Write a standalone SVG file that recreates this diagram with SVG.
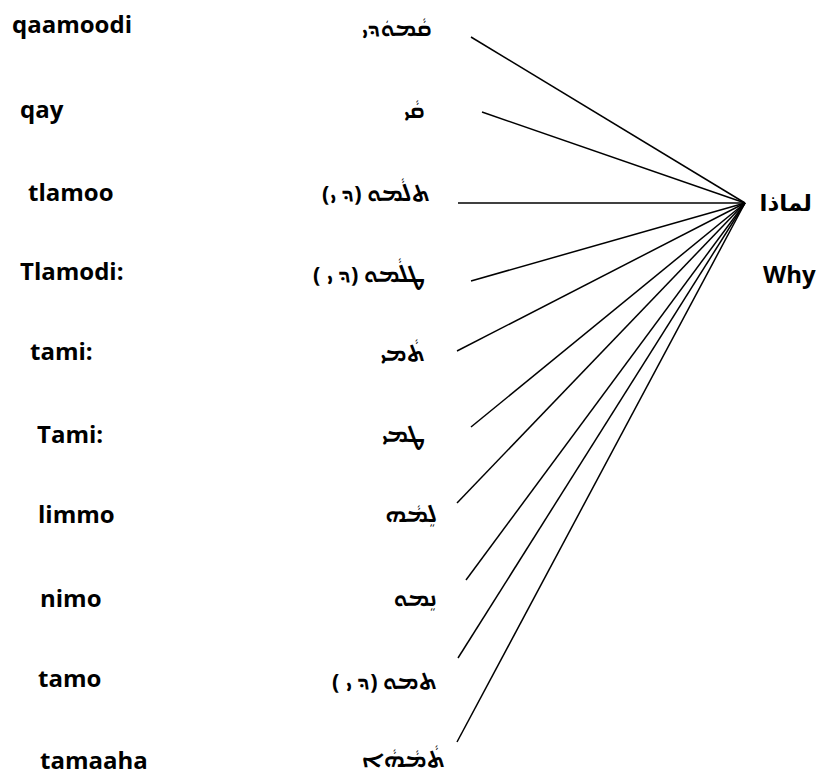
<svg xmlns="http://www.w3.org/2000/svg" width="820" height="778" viewBox="0 0 820 778">
<style>
.lat{font-family:"Open Sans","Liberation Sans",sans-serif;font-weight:bold;font-size:24px;fill:#000}
.syr{font-family:"Noto Sans Syriac","Estrangelo Edessa","DejaVu Sans",sans-serif;font-weight:bold;font-size:22px;fill:#000}
.ar{font-family:"DejaVu Sans","Noto Sans",sans-serif;font-weight:bold;font-size:23px;fill:#000}
.ln{stroke:#000;stroke-width:1.5;fill:none}
</style>
<rect width="820" height="778" fill="#fff"/>
<g id="connectors">
<line class="ln" x1="745" y1="203" x2="471" y2="37"/>
<line class="ln" x1="745" y1="203" x2="482" y2="112"/>
<line class="ln" x1="745" y1="203" x2="458" y2="203"/>
<line class="ln" x1="745" y1="203" x2="471" y2="281"/>
<line class="ln" x1="745" y1="203" x2="457" y2="351"/>
<line class="ln" x1="745" y1="203" x2="471" y2="427"/>
<line class="ln" x1="745" y1="203" x2="457" y2="503"/>
<line class="ln" x1="745" y1="203" x2="466" y2="580"/>
<line class="ln" x1="745" y1="203" x2="458" y2="658"/>
<line class="ln" x1="745" y1="203" x2="457" y2="742"/>
</g>
<g id="n1"><text class="lat" x="12" y="33">qaamoodi</text><text class="syr" x="432" y="36" direction="rtl">ܩܵܡܘܿܕܝ</text></g>
<g id="n2"><text class="lat" x="20" y="118">qay</text><text class="syr" x="425" y="118" direction="rtl">ܩܵܝ</text></g>
<g id="n3"><text class="lat" x="28" y="201">tlamoo</text><text class="syr" x="430" y="201" direction="rtl">ܬܠܵܡܘ (ܕ ܝ)</text></g>
<g id="n4"><text class="lat" x="20" y="280">Tlamodi:</text><text class="syr" x="425" y="282" direction="rtl">ܛܠܵܡܘ (ܕ ܝ )</text></g>
<g id="n5"><text class="lat" x="30" y="360">tami:</text><text class="syr" x="425" y="361" direction="rtl">ܬܵܡܝ</text></g>
<g id="n6"><text class="lat" x="37" y="443">Tami:</text><text class="syr" x="425" y="442" direction="rtl">ܛܡܝ</text></g>
<g id="n7"><text class="lat" x="38" y="523">limmo</text><text class="syr" x="437" y="522" direction="rtl">ܠܸܡܵܗ</text></g>
<g id="n8"><text class="lat" x="40" y="607">nimo</text><text class="syr" x="437" y="606" direction="rtl">ܢܸܡܘ</text></g>
<g id="n9"><text class="lat" x="38" y="687">tamo</text><text class="syr" x="437" y="689" direction="rtl">ܬܡܘ (ܕ ܝ )</text></g>
<g id="n10"><text class="lat" x="40" y="769">tamaaha</text><text class="syr" x="445" y="767" direction="rtl">ܬܵܡܵܗܵܐ</text></g>
<g id="target"><text class="ar" x="812" y="211" direction="rtl">لماذا</text><text class="lat" x="763" y="283">Why</text></g>
</svg>
